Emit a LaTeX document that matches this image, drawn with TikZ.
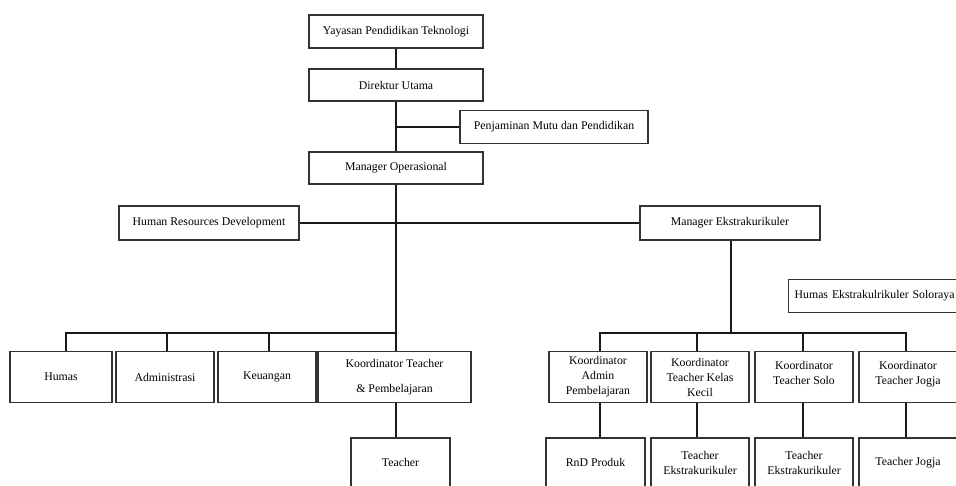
\documentclass[tikz,border=0pt]{standalone}
\usepackage{fontspec}
\setmainfont{Liberation Serif}
\begin{document}
\begin{tikzpicture}[x=1pt,y=-1pt,
	box/.style={rectangle, draw=black!80, line width=1.3pt, align=center, inner sep=2pt,
		font=\fontsize{11.8}{15}\selectfont},
	link/.style={draw=black!90, line width=2.2pt}]
	\clip (0,0) rectangle (956,485);
	% top chain
	\node (yayasan)	at (396, 31.5)	[box, minimum width=174pt, minimum height=33pt]	{Yayasan Pendidikan Teknologi};
	\node (direktur)	at (396, 85)	[box, minimum width=174pt, minimum height=32pt]	{Direktur Utama};
	\node (penjamin)	at (554, 127)	[box, minimum width=188pt, minimum height=33pt]	{Penjaminan Mutu dan Pendidikan};
	\node (manop)	at (396, 168)	[box, minimum width=174pt, minimum height=32pt]	{Manager Operasional};
	\node (hrd)	at (209, 223)	[box, minimum width=180pt, minimum height=34pt]	{Human Resources Development};
	\node (manek)	at (730, 223)	[box, minimum width=180pt, minimum height=34pt]	{Manager Ekstrakurikuler};
	\node (humasek)	at (788, 296)	[box, anchor=west, align=left, text width=175pt, inner xsep=6pt, minimum height=33pt]	{Humas Ekstrakulrikuler Soloraya};
	% left group
	\node (humas)	at (61, 377)	[box, minimum width=102pt, minimum height=51pt]	{Humas};
	\node (admin)	at (165, 377)	[box, minimum width=98pt, minimum height=51pt]	{Administrasi};
	\node (keuangan)	at (267, 377)	[box, minimum width=98pt, minimum height=51pt]	{Keuangan};
	\node (kteacher)	at (394.5, 377)	[box, minimum width=153pt, minimum height=51pt]	{Koordinator Teacher\\[10pt] \& Pembelajaran};
	\node (teacher)	at (400.5, 462.5)	[box, minimum width=99pt, minimum height=49pt]	{Teacher};
	% right group
	\node (kadmin)	at (598, 377)	[box, minimum width=98pt, minimum height=51pt]	{Koordinator\\ Admin\\ Pembelajaran};
	\node (kkecil)	at (700, 377)	[box, minimum width=98pt, minimum height=51pt]	{Koordinator\\ Teacher Kelas\\ Kecil};
	\node (ksolo)	at (804, 377)	[box, minimum width=98pt, minimum height=51pt, text depth=9pt]	{Koordinator\\ Teacher Solo};
	\node (kjogja)	at (908, 377)	[box, minimum width=98pt, minimum height=51pt, text depth=9pt]	{Koordinator\\ Teacher Jogja};
	\node (rnd)	at (595.5, 462.5)	[box, minimum width=99pt, minimum height=49pt]	{RnD Produk};
	\node (tek1)	at (700, 462.5)	[box, minimum width=98pt, minimum height=49pt]	{Teacher\\ Ekstrakurikuler};
	\node (tek2)	at (804, 462.5)	[box, minimum width=98pt, minimum height=49pt]	{Teacher\\ Ekstrakurikuler};
	\node (tjogja)	at (908, 462.5)	[box, minimum width=98pt, minimum height=49pt]	{Teacher Jogja};
	% bus points
	\coordinate (busL)	at (396, 333);
	\coordinate (busR)	at (731, 333);
	\coordinate (dL1)	at (66, 333);
	\coordinate (dL2)	at (167, 333);
	\coordinate (dL3)	at (269, 333);
	\coordinate (dR1)	at (600, 333);
	\coordinate (dR2)	at (697, 333);
	\coordinate (dR3)	at (803, 333);
	\coordinate (dR4)	at (906, 333);
	% connectors
	\draw[link] (yayasan) -- (direktur);
	\draw[link] (direktur) -- (manop);
	\draw[link] (direktur.south |- penjamin) -- (penjamin.west);
	\draw[link] (manop) -- (busL);
	\draw[link] (hrd.east) -- (manek.west);
	\draw[link] (manek.south -| busR) -- (busR);
	\draw[link] (dL1 |- humas.north) -- (dL1) -- (busL) -- (busL |- kteacher.north);
	\draw[link] (dL2) -- (dL2 |- admin.north);
	\draw[link] (dL3) -- (dL3 |- keuangan.north);
	\draw[link] (kteacher.south -| busL) -- (teacher.north -| busL);
	\draw[link] (dR1 |- kadmin.north) -- (dR1) -- (dR4) -- (dR4 |- kjogja.north);
	\draw[link] (dR2) -- (dR2 |- kkecil.north);
	\draw[link] (dR3) -- (dR3 |- ksolo.north);
	\draw[link] (kadmin.south -| dR1) -- (rnd.north -| dR1);
	\draw[link] (kkecil.south -| dR2) -- (tek1.north -| dR2);
	\draw[link] (ksolo.south -| dR3) -- (tek2.north -| dR3);
	\draw[link] (kjogja.south -| dR4) -- (tjogja.north -| dR4);
\end{tikzpicture}
\end{document}
